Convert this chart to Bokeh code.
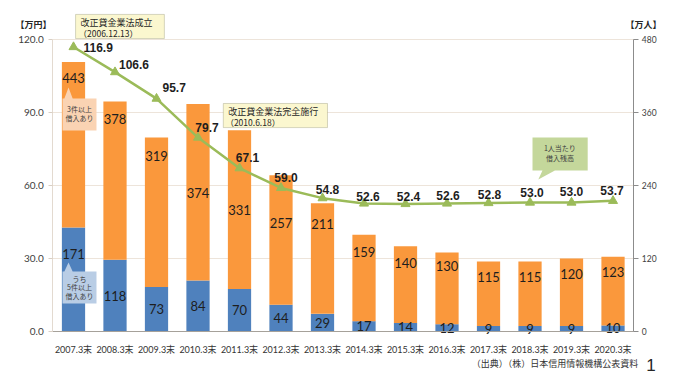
from bokeh.plotting import figure
from bokeh.models import (Range1d, LinearAxis, FixedTicker, NumeralTickFormatter,
                          ColumnDataSource, Label, PolyAnnotation)
from bokeh.embed import file_html
from bokeh.resources import INLINE
from bokeh.core.properties import value

# ---------------- data ----------------
categories = ["2007.3末", "2008.3末", "2009.3末", "2010.3末", "2011.3末", "2012.3末", "2013.3末",
              "2014.3末", "2015.3末", "2016.3末", "2017.3末", "2018.3末", "2019.3末", "2020.3末"]
borrowers_3plus = [443, 378, 319, 374, 331, 257, 211, 159, 140, 130, 115, 115, 120, 123]   # 万人
borrowers_5plus = [171, 118, 73, 84, 70, 44, 29, 17, 14, 12, 9, 9, 9, 10]                # 万人
balance_per_person = [116.9, 106.6, 95.7, 79.7, 67.1, 59.0, 54.8, 52.6, 52.4, 52.6, 52.8, 53.0, 53.0, 53.7]  # 万円
left_ticks = [0, 30, 60, 90, 120]
right_ticks = [0, 120, 240, 360, 480]
grid_ticks = [30, 60, 90, 120]

# ---------------- styling / placement ----------------
ORANGE = "#FA983C"
BLUE = "#4F81BD"
GREEN = "#9BBB59"
GRID = "#EDE4DA"
TXT = "#1E1E1E"
JP = "Noto Sans CJK JP"
NUM = "Lato, Noto Sans CJK JP"

orange_label_pos = [417, 350, 289, 228, 199, 179, 177, 130, 112, 108, 89, 89, 95, 97]
blue_label_pos = [v / 2 for v in borrowers_5plus]
blue_label_pos[0] = 128
line_dx = [10, 4, 6, 9, 8, 5, 5, 4, 3, 1, 1, 2, 0, -1]
line_dy = [0, -8, -11, -10, -11, -10, -9, -7, -7, -8, -9, -10, -11, -10]
line_align = ["left", "left", "left"] + ["center"] * 11

idx = list(range(len(categories)))
n = len(categories)

# the frame covers the whole canvas; axes are pinned with fixed_location
p = figure(width=669, height=379, output_backend="svg", toolbar_location=None,
           x_range=Range1d(-1.759, 14.361), y_range=Range1d(-19.726, 136.027),
           x_axis_location=None, y_axis_location=None,
           min_border_left=0, min_border_right=0, min_border_top=0, min_border_bottom=0)
p.extra_y_ranges = {"right": Range1d(-78.90, 544.11)}
p.outline_line_color = None
p.background_fill_color = "white"
p.border_fill_color = "white"
p.xgrid.visible = False
p.ygrid.visible = False

# grid lines
p.segment(x0=[-0.5] * len(grid_ticks), x1=[n - 0.5] * len(grid_ticks),
          y0=grid_ticks, y1=grid_ticks, line_color=GRID, line_width=1)

# bottom axis
xa = LinearAxis(fixed_location=0, bounds=(-0.5, n - 0.5), ticker=FixedTicker(ticks=idx))
xa.major_label_overrides = {i: c for i, c in zip(idx, categories)}
xa.major_tick_line_color = None
xa.minor_tick_line_color = None
xa.axis_line_color = "#A6A19A"
xa.major_label_text_font_size = "9px"
xa.major_label_text_font = NUM
xa.major_label_text_color = "#333333"
xa.major_label_standoff = 7
p.add_layout(xa, "below")

# left axis
ya = LinearAxis(fixed_location=-0.5, bounds=(0, 120), ticker=FixedTicker(ticks=left_ticks),
                formatter=NumeralTickFormatter(format="0.0"))
ya.axis_line_color = "#E3DAD0"
ya.major_tick_line_color = "#D9CFC4"
ya.major_tick_out = 4
ya.major_tick_in = 0
ya.minor_tick_line_color = None
ya.major_label_text_font_size = "10px"
ya.major_label_text_font = NUM
ya.major_label_text_color = "#404040"
ya.major_label_standoff = 5
p.add_layout(ya, "left")

# right axis
ra = LinearAxis(y_range_name="right", fixed_location=n - 0.5, bounds=(0, 480),
                ticker=FixedTicker(ticks=right_ticks))
ra.axis_line_color = "#8C8C8C"
ra.major_tick_line_color = "#8C8C8C"
ra.major_tick_out = 5
ra.major_tick_in = 0
ra.minor_tick_line_color = None
ra.major_label_text_font_size = "8.5px"
ra.major_label_text_font = NUM
ra.major_label_text_color = "#404040"
ra.major_label_standoff = 3
p.add_layout(ra, "right")

src = ColumnDataSource(dict(
    x=idx, cat=categories, b3=borrowers_3plus, b5=borrowers_5plus, bal=balance_per_person,
    olab=[str(v) for v in borrowers_3plus], blab=[str(v) for v in borrowers_5plus],
    lblab=[f"{v:.1f}" for v in balance_per_person],
    opos=orange_label_pos, bpos=blue_label_pos, dx=line_dx, dy=line_dy, al=line_align,
))

p.vbar(x="x", bottom=0, top="b5", width=0.56, source=src, y_range_name="right",
       fill_color=BLUE, line_color=None)
p.vbar(x="x", bottom="b5", top="b3", width=0.56, source=src, y_range_name="right",
       fill_color=ORANGE, line_color=None)

p.line(x="x", y="bal", source=src, line_color=GREEN, line_width=2.5)
p.scatter(x="x", y="bal", source=src, marker="triangle", size=9,
          fill_color=GREEN, line_color=GREEN)

p.text(x="x", y="opos", text="olab", source=src, y_range_name="right",
       text_font=value(NUM), text_font_size="13px", text_color=TXT,
       text_align="center", text_baseline="middle")
p.text(x="x", y="bpos", text="blab", source=src, y_range_name="right",
       text_font=value(NUM), text_font_size="13px", text_color=TXT,
       text_align="center", text_baseline="middle")
p.text(x="x", y="bal", text="lblab", source=src, x_offset="dx", y_offset="dy",
       text_align="al", text_font=value("Liberation Sans"), text_font_size="12px",
       text_font_style="bold", text_color=TXT, text_baseline="middle")

# ---------------- callouts ----------------
def callout(xs, ys, fill, line=None):
    p.add_layout(PolyAnnotation(xs=xs, ys=ys, fill_color=fill, fill_alpha=1.0,
                                line_color=line, line_width=1 if line else 0))

def lab(x, y, t, size="9px", align="left", color="#262626", font=JP, style="normal"):
    p.add_layout(Label(x=x, y=y, text=t, text_font=font, text_font_size=size,
                       text_align=align, text_baseline="middle", text_color=color,
                       text_font_style=style))

# 改正貸金業法成立
callout([0.05, 2.19, 2.19, 0.05], [130.3, 130.3, 120.4, 120.4], "#FBF7CF", "#7A7A55")
lab(0.17, 127.0, "改正貸金業法成立")
lab(0.12, 122.5, "（2006.12.13）", size="8.5px")
# 改正貸金業法完全施行
callout([3.61, 6.12, 6.12, 3.61], [93.7, 93.7, 83.8, 83.8], "#FBF7CF", "#7A7A55")
lab(3.73, 90.5, "改正貸金業法完全施行")
lab(3.66, 86.0, "（2010.6.18）", size="8.5px")
# 3件以上借入あり
callout([-0.265, -0.22, -0.12, -0.02, 0.554, 0.554, -0.265],
        [95.8, 95.8, 100.3, 95.8, 95.8, 82.6, 82.6], "#FAD3B3")
lab(0.145, 91.5, "3件以上", size="7px", align="center", color="#404040")
lab(0.145, 87.6, "借入あり", size="7px", align="center", color="#404040")
# うち5件以上借入あり
callout([-0.265, -0.22, -0.12, -0.02, 0.554, 0.554, -0.265],
        [24.7, 24.7, 28.4, 24.7, 24.7, 11.5, 11.5], "#B9CDE5")
lab(0.145, 21.7, "うち", size="7px", align="center", color="#404040")
lab(0.145, 18.1, "5件以上", size="7px", align="center", color="#404040")
lab(0.145, 14.6, "借入あり", size="7px", align="center", color="#404040")
# 1人当たり借入残高
callout([11.06, 12.39, 12.39, 11.6, 11.2, 11.3, 11.06],
        [79.7, 79.7, 66.2, 66.2, 62.5, 66.2, 66.2], "#C4D79B")
lab(11.72, 75.5, "1人当たり", size="7px", align="center", color="#404040")
lab(11.72, 71.5, "借入残高", size="7px", align="center", color="#404040")

# axis unit titles and source note
lab(-1.4, 126.2, "【万円】", size="9px", color="#262626", style="bold")
lab(13.3, 126.2, "【万人】", size="9px", color="#262626", style="bold")
lab(13.61, -13.2, "（出典）（株）日本信用情報機構公表資料", size="9px", align="right", color="#333333")
lab(13.8, -13.6, "1", size="17px", color="#262626", font="Liberation Sans")

open("out.html", "w").write(file_html(p, INLINE))
